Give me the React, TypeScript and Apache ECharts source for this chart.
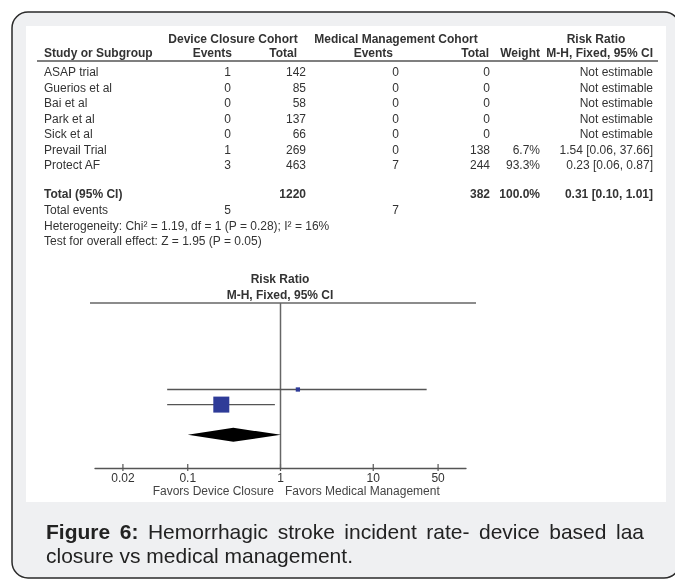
import React, { useEffect, useRef } from "react";
import * as echarts from "echarts";

// ---------------- data ----------------
const studies = ["ASAP trial", "Guerios et al", "Bai et al", "Park et al", "Sick et al", "Prevail Trial", "Protect AF"];
const deviceEvents = [1, 0, 0, 0, 0, 1, 3];
const deviceTotals = [142, 85, 58, 137, 66, 269, 463];
const medicalEvents = [0, 0, 0, 0, 0, 0, 7];
const medicalTotals = [0, 0, 0, 0, 0, 138, 244];
const weights: (number | null)[] = [null, null, null, null, null, 6.7, 93.3];
const riskRatios: (number | null)[] = [null, null, null, null, null, 1.54, 0.23];
const ciLower: (number | null)[] = [null, null, null, null, null, 0.06, 0.06];
const ciUpper: (number | null)[] = [null, null, null, null, null, 37.66, 0.87];

const pooledRR = [0.31, 0.1, 1.01]; // estimate, lower, upper
const totalParticipants = [1220, 382]; // device, medical
const totalEvents = [5, 7]; // device, medical
const totalWeight = 100.0;

const heterogeneityText = "Heterogeneity: Chi\u00B2 = 1.19, df = 1 (P = 0.28); I\u00B2 = 16%";
const overallEffectText = "Test for overall effect: Z = 1.95 (P = 0.05)";

const xTicks = [0.02, 0.1, 1, 10, 50];
const xTickLabels = ["0.02", "0.1", "1", "10", "50"];
const xRange = [0.01, 100];

const captionBold = "Figure 6:";
const captionLine1 = "Hemorrhagic stroke incident rate- device based laa";
const captionLine2 = "closure vs medical management.";

// ---------------- layout / style ----------------
const FONT = "'Liberation Sans', Arial, Helvetica, sans-serif";
const TXT = "#333333";
const LINE = "#555555";
const BLUE = "#2e3b98";

const COL = { name: 44, devEv: 231, devTot: 306, medEv: 399, medTot: 490, weight: 540, rr: 653 };
const HEAD = { devEv: 232, devTot: 297, medEv: 393, medTot: 489, weight: 540, rr: 653 };
const ROW0 = 72;
const ROW_PITCH = 15.5;

function T(text: string, x: number, y: number, o: { bold?: boolean; size?: number; align?: string; color?: string } = {}) {
  const align = o.align ?? "left";
  return {
    type: "text",
    x,
    y,
    silent: true,
    z: 10,
    style: {
      text,
      fill: o.color ?? TXT,
      font: `${o.bold ? "bold " : ""}${o.size ?? 12}px ${FONT}`,
      align,
      textAlign: align,
      verticalAlign: "middle",
      textVerticalAlign: "middle",
    },
  };
}

const f2 = (v: number) => v.toFixed(2);

export default function App() {
  const ref = useRef<HTMLDivElement>(null);

  useEffect(() => {
    const chart = echarts.init(ref.current!, null, { renderer: "svg" });

    const g: any[] = [];
    // frame
    g.push({
      type: "rect",
      z: -20,
      silent: true,
      shape: { x: 12, y: 12, width: 668, height: 566, r: 16 },
      style: { fill: "#eff0f2", stroke: "#2a2a2a", lineWidth: 1.5 },
    });
    g.push({
      type: "rect",
      z: -19,
      silent: true,
      shape: { x: 26, y: 26, width: 640, height: 476 },
      style: { fill: "#ffffff" },
    });

    // table headers
    g.push(T("Device Closure Cohort", 233, 39, { bold: true, align: "center" }));
    g.push(T("Medical Management Cohort", 396, 39, { bold: true, align: "center" }));
    g.push(T("Risk Ratio", 596, 39, { bold: true, align: "center" }));
    g.push(T("Study or Subgroup", COL.name, 53, { bold: true }));
    g.push(T("Events", HEAD.devEv, 53, { bold: true, align: "right" }));
    g.push(T("Total", HEAD.devTot, 53, { bold: true, align: "right" }));
    g.push(T("Events", HEAD.medEv, 53, { bold: true, align: "right" }));
    g.push(T("Total", HEAD.medTot, 53, { bold: true, align: "right" }));
    g.push(T("Weight", HEAD.weight, 53, { bold: true, align: "right" }));
    g.push(T("M-H, Fixed, 95% CI", HEAD.rr, 53, { bold: true, align: "right" }));
    g.push({
      type: "line",
      z: 5,
      silent: true,
      shape: { x1: 37, y1: 61, x2: 658, y2: 61 },
      style: { stroke: LINE, lineWidth: 1.5 },
    });

    // table rows
    studies.forEach((s, i) => {
      const y = ROW0 + i * ROW_PITCH;
      g.push(T(s, COL.name, y));
      g.push(T(String(deviceEvents[i]), COL.devEv, y, { align: "right" }));
      g.push(T(String(deviceTotals[i]), COL.devTot, y, { align: "right" }));
      g.push(T(String(medicalEvents[i]), COL.medEv, y, { align: "right" }));
      g.push(T(String(medicalTotals[i]), COL.medTot, y, { align: "right" }));
      const w = weights[i];
      if (w != null) g.push(T(w.toFixed(1) + "%", COL.weight, y, { align: "right" }));
      const rr = riskRatios[i];
      const txt = rr == null ? "Not estimable" : `${f2(rr)} [${f2(ciLower[i]!)}, ${f2(ciUpper[i]!)}]`;
      g.push(T(txt, COL.rr, y, { align: "right" }));
    });

    // totals
    const yTot = 194;
    g.push(T("Total (95% CI)", COL.name, yTot, { bold: true }));
    g.push(T(String(totalParticipants[0]), COL.devTot, yTot, { bold: true, align: "right" }));
    g.push(T(String(totalParticipants[1]), COL.medTot, yTot, { bold: true, align: "right" }));
    g.push(T(totalWeight.toFixed(1) + "%", COL.weight, yTot, { bold: true, align: "right" }));
    g.push(
      T(`${f2(pooledRR[0])} [${f2(pooledRR[1])}, ${f2(pooledRR[2])}]`, COL.rr, yTot, { bold: true, align: "right" })
    );
    g.push(T("Total events", COL.name, 210));
    g.push(T(String(totalEvents[0]), COL.devEv, 210, { align: "right" }));
    g.push(T(String(totalEvents[1]), COL.medEv, 210, { align: "right" }));
    g.push(T(heterogeneityText, COL.name, 226));
    g.push(T(overallEffectText, COL.name, 241));

    // plot header
    g.push(T("Risk Ratio", 280, 279, { bold: true, align: "center" }));
    g.push(T("M-H, Fixed, 95% CI", 280, 295, { bold: true, align: "center" }));
    g.push({
      type: "line",
      z: 5,
      silent: true,
      shape: { x1: 90, y1: 303, x2: 476, y2: 303 },
      style: { stroke: "#666666", lineWidth: 1.5 },
    });
    g.push(T("Favors Device Closure", 274, 491, { align: "right", color: "#444" }));
    g.push(T("Favors Medical Management", 285, 491, { align: "left", color: "#444" }));

    // caption (justified line 1)
    const ctx = document.createElement("canvas").getContext("2d")!;
    const measure = (s: string, bold: boolean) => {
      ctx.font = `${bold ? "bold " : ""}21px ${FONT}`;
      return ctx.measureText(s).width;
    };
    const words = [
      ...captionBold.split(" ").map((w) => ({ w, b: true })),
      ...captionLine1.split(" ").map((w) => ({ w, b: false })),
    ];
    const capLeft = 46;
    const capRight = 644;
    const totalW = words.reduce((a, o) => a + measure(o.w, o.b), 0);
    const gap = (capRight - capLeft - totalW) / (words.length - 1);
    let cx = capLeft;
    words.forEach((o) => {
      g.push(T(o.w, cx, 531, { bold: o.b, size: 21, color: "#222" }));
      cx += measure(o.w, o.b) + gap;
    });
    g.push(T(captionLine2, capLeft, 555, { size: 21, color: "#222" }));

    // series data
    const studyData: number[][] = [];
    studies.forEach((_, i) => {
      if (riskRatios[i] != null) {
        studyData.push([riskRatios[i]!, ciLower[i]!, ciUpper[i]!, i, weights[i]!]);
      }
    });
    const pooledRow = studies.length + 1;
    const maxW = Math.max(...(weights.filter((w) => w != null) as number[]));
    const tickData = xTicks.map((v, i) => [v, 0, i]);

    const option: any = {
      animation: false,
      graphic: { elements: g },
      grid: { left: 95, top: 303, width: 371, height: 165, containLabel: false, outerBoundsMode: "none" },
      xAxis: {
        type: "log",
        logBase: 10,
        min: xRange[0],
        max: xRange[1],
        z: 5,
        splitLine: { show: false },
        minorTick: { show: false },
        axisLine: { show: true, onZero: false, lineStyle: { color: LINE, width: 1.3 } },
        axisTick: { show: false },
        axisLabel: { show: false },
      },
      yAxis: { type: "value", inverse: true, min: -0.73, max: 10.2, show: false },
      series: [
        {
          type: "custom",
          name: "axis ticks",
          silent: true,
          z: 3,
          data: tickData,
          encode: { x: 0, y: 1 },
          renderItem: (params: any, api: any) => {
            const p = api.coord([api.value(0), api.value(1)]);
            const cs = params.coordSys;
            const yb = cs.y + cs.height;
            return {
              type: "group",
              children: [
                {
                  type: "line",
                  shape: { x1: p[0], y1: yb - 4, x2: p[0], y2: yb + 3 },
                  style: { stroke: LINE, lineWidth: 1.2 },
                },
                {
                  type: "text",
                  x: p[0],
                  y: yb + 10,
                  style: {
                    text: xTickLabels[api.value(2)],
                    fill: TXT,
                    font: `12px ${FONT}`,
                    align: "center",
                    textAlign: "center",
                    verticalAlign: "middle",
                    textVerticalAlign: "middle",
                  },
                },
              ],
            };
          },
        },
        {
          type: "custom",
          name: "null line",
          silent: true,
          z: 3,
          data: [[1, 0]],
          encode: { x: 0, y: 1 },
          renderItem: (params: any, api: any) => {
            const p = api.coord([api.value(0), api.value(1)]);
            const cs = params.coordSys;
            return {
              type: "line",
              shape: { x1: p[0], y1: cs.y, x2: p[0], y2: cs.y + cs.height },
              style: { stroke: "#666666", lineWidth: 1.5 },
            };
          },
        },
        {
          type: "custom",
          name: "studies",
          silent: true,
          z: 4,
          data: studyData,
          encode: { x: [0, 1, 2], y: 3 },
          renderItem: (params: any, api: any) => {
            const est = api.value(0);
            const lo = api.value(1);
            const hi = api.value(2);
            const row = api.value(3);
            const w = api.value(4);
            const a = api.coord([lo, row]);
            const b = api.coord([hi, row]);
            const c = api.coord([est, row]);
            const size = Math.max(3, 16 * Math.sqrt(w / maxW));
            return {
              type: "group",
              children: [
                {
                  type: "line",
                  shape: { x1: a[0], y1: a[1], x2: b[0], y2: b[1] },
                  style: { stroke: LINE, lineWidth: 1.3 },
                },
                {
                  type: "rect",
                  shape: { x: c[0] - size / 2, y: c[1] - size / 2, width: size, height: size },
                  style: { fill: BLUE },
                },
              ],
            };
          },
        },
        {
          type: "custom",
          name: "pooled",
          silent: true,
          z: 4,
          data: [[pooledRR[0], pooledRR[1], pooledRR[2], pooledRow]],
          encode: { x: [0, 1, 2], y: 3 },
          renderItem: (params: any, api: any) => {
            const row = api.value(3);
            const c = api.coord([api.value(0), row]);
            const l = api.coord([api.value(1), row]);
            const r = api.coord([api.value(2), row]);
            const h = 7;
            return {
              type: "polygon",
              shape: { points: [l, [c[0], c[1] - h], r, [c[0], c[1] + h]] },
              style: { fill: "#000000" },
            };
          },
        },
      ],
    };

    chart.setOption(option);
    return () => chart.dispose();
  }, []);

  return <div ref={ref} style={{ position: "fixed", left: 0, top: 0, width: 675, height: 581 }} />;
}
